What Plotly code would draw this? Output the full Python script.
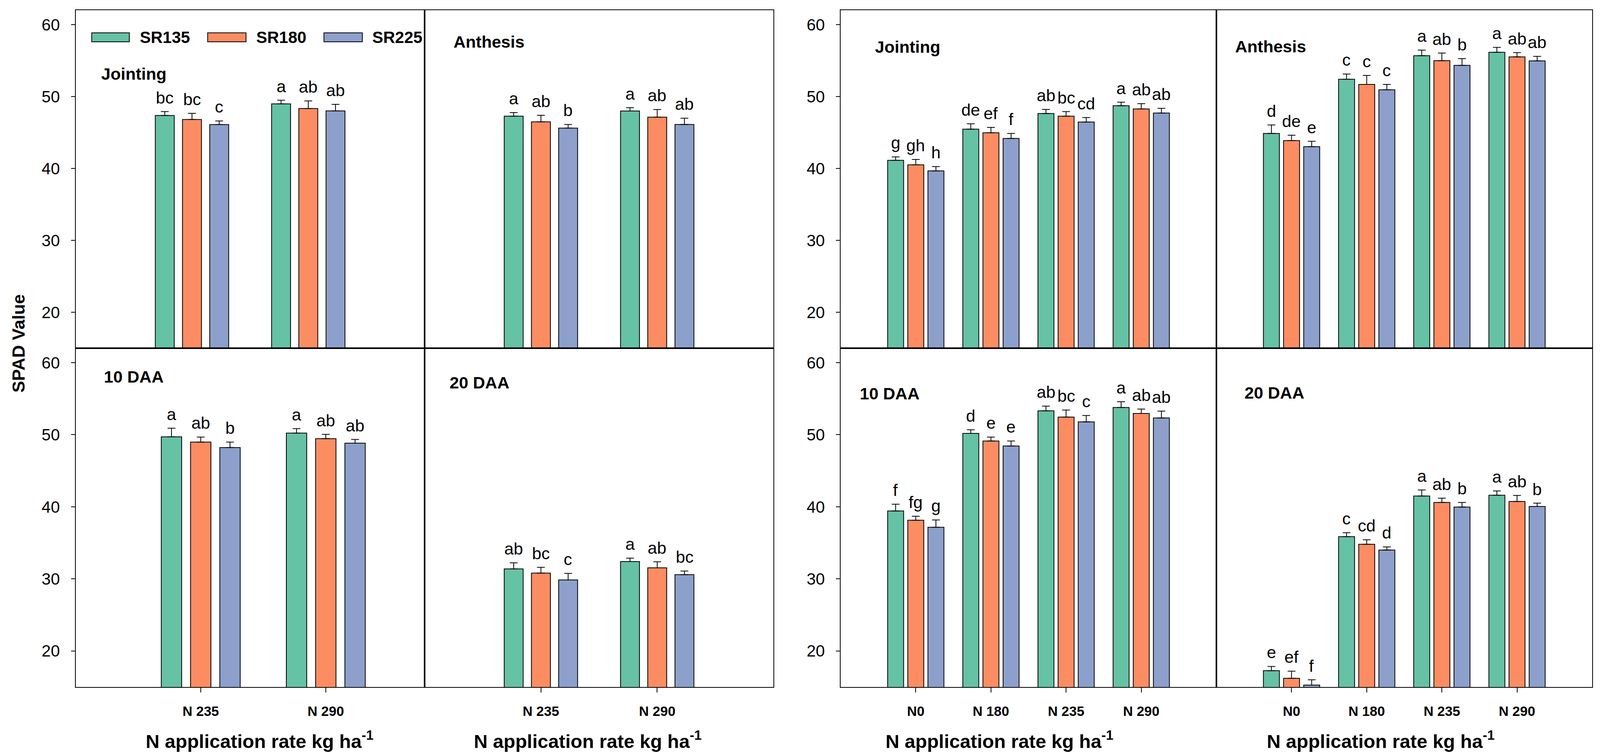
import plotly.graph_objects as go

W, H = 4292, 1932

series = ["SR135", "SR180", "SR225"]
colors = ["#66C2A5", "#FC8D62", "#8DA0CB"]

cats_left = ["N 235", "N 290"]
cats_right = ["N0", "N 180", "N 235", "N 290"]

jl_val = [[47.35, 48.97], [46.80, 48.32], [46.10, 48.00]]
jl_err = [[0.55, 0.50], [0.86, 1.06], [0.50, 0.90]]
jl_let = [["bc", "a"], ["bc", "ab"], ["c", "ab"]]

al_val = [[47.26, 47.98], [46.48, 47.13], [45.61, 46.11]]
al_err = [[0.50, 0.46], [0.90, 1.06], [0.50, 0.87]]
al_let = [["a", "a"], ["ab", "ab"], ["b", "ab"]]

d10l_val = [[49.71, 50.22], [48.98, 49.45], [48.22, 48.83]]
d10l_err = [[1.19, 0.62], [0.69, 0.59], [0.76, 0.51]]
d10l_let = [["a", "a"], ["ab", "ab"], ["b", "ab"]]

d20l_val = [[31.38, 32.40], [30.80, 31.53], [29.85, 30.58]]
d20l_err = [[0.84, 0.48], [0.80, 0.84], [0.91, 0.51]]
d20l_let = [["ab", "a"], ["bc", "ab"], ["c", "bc"]]

jr_val = [[41.12, 45.45, 47.63, 48.72], [40.50, 44.95, 47.26, 48.26], [39.66, 44.17, 46.45, 47.69]]
jr_err = [[0.48, 0.75, 0.57, 0.48], [0.75, 0.75, 0.64, 0.74], [0.59, 0.69, 0.62, 0.66]]
jr_let = [["g", "de", "ab", "a"], ["gh", "ef", "bc", "ab"], ["h", "f", "cd", "ab"]]

ar_val = [[44.86, 52.40, 55.67, 56.14], [43.86, 51.68, 54.98, 55.51], [43.02, 50.93, 54.33, 54.95]]
ar_err = [[1.18, 0.72, 0.78, 0.68], [0.75, 1.25, 1.06, 0.59], [0.75, 0.75, 0.93, 0.63]]
ar_let = [["d", "c", "a", "a"], ["de", "c", "ab", "ab"], ["e", "c", "b", "ab"]]

d10r_val = [[39.42, 50.18, 53.31, 53.78], [38.14, 49.13, 52.44, 52.95], [37.16, 48.43, 51.78, 52.33]]
d10r_err = [[0.94, 0.51, 0.66, 0.80], [0.55, 0.54, 0.98, 0.61], [1.02, 0.70, 0.88, 0.94]]
d10r_let = [["f", "d", "ab", "a"], ["fg", "e", "bc", "ab"], ["g", "e", "c", "ab"]]

d20r_val = [[17.27, 35.86, 41.50, 41.60], [16.21, 34.80, 40.60, 40.73], [15.27, 34.00, 39.96, 40.04]]
d20r_err = [[0.58, 0.54, 0.84, 0.60], [0.99, 0.62, 0.60, 0.84], [0.73, 0.44, 0.64, 0.46]]
d20r_let = [["e", "c", "a", "a"], ["ef", "cd", "ab", "ab"], ["f", "d", "b", "b"]]

stage_labels = ["Jointing", "Anthesis", "10 DAA", "20 DAA",
                "Jointing", "Anthesis", "10 DAA", "20 DAA"]
ytick_vals = [20, 30, 40, 50, 60]

FONT = "Liberation Sans, Arial, sans-serif"

def px(x):
    return x / W

def py(y):
    return 1 - y / H

col_dom = [[px(203), px(1139)], [px(1139), px(2075)],
           [px(2255), px(3263)], [px(3263), px(4271)]]
row_dom = {"top": [py(891), py(26)], "bot": [py(1758), py(891)]}

panels = [
    (cats_left, jl_val, jl_err, jl_let, 0, "top", [-1, 2], (269, 189)),
    (cats_left, al_val, al_err, al_let, 1, "top", [-1, 2], (1214, 107)),
    (cats_left, d10l_val, d10l_err, d10l_let, 0, "bot", [-1, 1.79], (277, 964)),
    (cats_left, d20l_val, d20l_err, d20l_let, 1, "bot", [-1, 2], (1204, 979)),
    (cats_right, jr_val, jr_err, jr_let, 2, "top", [-1, 4], (2345, 120)),
    (cats_right, ar_val, ar_err, ar_let, 3, "top", [-1, 4], (3311, 119)),
    (cats_right, d10r_val, d10r_err, d10r_let, 2, "bot", [-1, 4], (2304, 1007)),
    (cats_right, d20r_val, d20r_err, d20r_let, 3, "bot", [-1, 4], (3336, 1005)),
]

fig = go.Figure()
annotations = []
shapes = []
layout_axes = {}

for p, (cats, vals, errs, lets, col, row, xr, lab) in enumerate(panels):
    n = p + 1
    xa = "x" if n == 1 else f"x{n}"
    ya = "y" if n == 1 else f"y{n}"
    left_block = len(cats) == 2
    pitch = 0.234 if left_block else 0.268
    bw = 0.163 if left_block else 0.213
    for k in range(3):
        fig.add_trace(go.Bar(
            x=cats, y=vals[k], name=series[k], showlegend=False,
            xaxis=xa, yaxis=ya,
            offset=(k - 1) * pitch - bw / 2, width=bw,
            marker=dict(color=colors[k], line=dict(color="black", width=2)),
            error_y=dict(type="data", symmetric=False, array=errs[k],
                         arrayminus=[0] * len(cats), color="black",
                         thickness=2, width=10),
        ))
        for i in range(len(cats)):
            annotations.append(dict(
                x=i + (k - 1) * pitch, y=vals[k][i] + errs[k][i],
                xref=xa, yref=ya, text=lets[k][i], showarrow=False,
                xanchor="center", yanchor="bottom", yshift=10,
                font=dict(family=FONT, size=43, color="black")))
    annotations.append(dict(
        x=px(lab[0]), y=py(lab[1]), xref="paper", yref="paper",
        text="<b>" + stage_labels[p] + "</b>", showarrow=False,
        xanchor="left", yanchor="middle",
        font=dict(family=FONT, size=43, color="black")))

    show_y = col in (0, 2)
    bottom = row == "bot"
    layout_axes["xaxis" if n == 1 else f"xaxis{n}"] = dict(
        domain=col_dom[col], range=xr, type="category", anchor=ya,
        showline=True, linecolor="black", linewidth=2, mirror=True,
        showgrid=False, zeroline=False,
        ticks="outside" if bottom else "", ticklen=12, tickwidth=2,
        tickcolor="black", showticklabels=bottom,
        tickfont=dict(family=FONT, size=35, color="black", weight="bold"),
        ticklabelstandoff=18, fixedrange=True)
    layout_axes["yaxis" if n == 1 else f"yaxis{n}"] = dict(
        domain=row_dom[row], range=[15, 62], anchor=xa,
        showline=True, linecolor="black", linewidth=2, mirror=True,
        showgrid=False, zeroline=False,
        tickvals=ytick_vals if show_y else [],
        ticks="outside" if show_y else "", ticklen=10, tickwidth=2,
        tickcolor="black", showticklabels=show_y,
        tickfont=dict(family=FONT, size=42, color="black"),
        ticklabelstandoff=20, fixedrange=True)

sw_x = [(246, 347), (557, 660), (869, 972)]
tx_x = [373, 685, 997]
for k in range(3):
    shapes.append(dict(type="rect", xref="paper", yref="paper",
                       x0=px(sw_x[k][0]), x1=px(sw_x[k][1]),
                       y0=py(107), y1=py(84),
                       fillcolor=colors[k], line=dict(color="black", width=2)))
    annotations.append(dict(x=px(tx_x[k]), y=py(96), xref="paper", yref="paper",
                            text="<b>" + series[k] + "</b>", showarrow=False,
                            xanchor="left", yanchor="middle",
                            font=dict(family=FONT, size=42, color="black")))

for cx in [696, 1577, 2681, 3704]:
    annotations.append(dict(x=px(cx), y=py(1893), xref="paper", yref="paper",
                            text="<b>N application rate kg ha<sup>-1</sup></b>",
                            showarrow=False, xanchor="center", yanchor="middle",
                            font=dict(family=FONT, size=49, color="black")))
annotations.append(dict(x=px(49), y=py(879), xref="paper", yref="paper",
                        text="<b>SPAD Value</b>", showarrow=False, textangle=-90,
                        xanchor="center", yanchor="middle",
                        font=dict(family=FONT, size=45, color="black")))

fig.update_layout(
    autosize=True, margin=dict(l=0, r=0, t=0, b=0),
    paper_bgcolor="white", plot_bgcolor="white",
    barmode="overlay", showlegend=False,
    annotations=annotations, shapes=shapes,
    font=dict(family=FONT, color="black"),
    **layout_axes)

post = """
document.documentElement.style.margin='0';
document.body.style.margin='0';
document.body.style.overflow='hidden';
var gd=document.getElementById('{plot_id}');
gd.style.width='100vw'; gd.style.height='100vh';
Plotly.Plots.resize(gd);
"""

fig.write_html("out.html", default_width="100vw", default_height="100vh",
               post_script=post,
               config={"responsive": True, "displayModeBar": False})
